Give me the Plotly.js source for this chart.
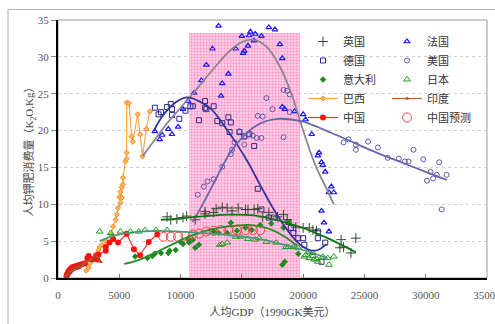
<!DOCTYPE html>
<html>
<head>
<meta charset="utf-8">
<script src="https://cdn.plot.ly/plotly-3.0.1.min.js"></script>
<style>html,body{margin:0;padding:0;background:#fff;}#chart{width:495px;height:324px;}</style>
</head>
<body>
<div id="chart"></div>
<script>
// ---- data ----
const shadeX = [10700, 19750];
const shadeTop = 33.3;

const ukX = [8900,9200,9700,10200,10500,11200,12000,12000,12700,12900,13400,13800,14200,14700,15300,15500,16000,16300,16700,17200,17900,18400,18700,19400,20000,20500,20800,21100,23000,23100,23300,23900,24300];
const ukY = [8.3,7.9,8.0,8.2,8.4,7.9,8.7,9.0,8.9,9.4,9.6,9.5,9.1,9.5,9.3,9.3,9.3,9.4,8.3,8.9,8.3,8.6,7.9,6.9,6.8,6.8,6.5,6.4,4.1,5.2,4.2,3.4,5.4];

const frX = [7900,8300,8500,9000,9300,9800,10200,10600,11100,11700,12100,12600,13100,13300,13400,13900,14500,15000,15100,15200,15500,15600,15700,16000,16100,16600,17200,17700,18100,18300,18300,18500,19300,20000,20200,20700,21200,21300,21500,21600,21800,22100,22300,22500,21500,21700,22100];
const frY = [19.9,18.8,19.4,20.2,19.5,20.5,22.9,24.0,25.1,26.8,28.9,31.1,34.2,24.7,26.4,27.7,31.1,32.8,30.5,30.8,31.5,32.9,33.4,32.2,33.1,32.8,34.0,33.7,31.7,29.8,23.2,22.9,22.6,22.2,21.5,19.5,16.6,17.0,15.7,15.3,14.4,11.6,12.4,11.6,9.1,7.5,6.3];

const deX = [7900,8200,8400,8900,9200,9300,9300,9900,10400,10800,11000,11500,12000,12000,12100,12700,13000,13400,13900,14000,14100,14800,15200,15600,16000,16300,16600,17200,17600,18800,19000,19200,19600,20000,20100,21200,21200,21500,21800];
const deY = [23.1,22.2,22.5,23.2,23.6,22.9,22.1,21.6,22.7,23.3,23.3,21.4,24.0,23.1,22.9,23.3,21.3,21.0,21.8,19.8,21.1,19.8,19.2,19.5,17.9,12.1,9.3,8.2,8.2,7.6,6.8,6.1,5.4,5.4,4.5,6.3,5.4,2.2,4.8];

const usX = [11400,11900,12200,12700,13400,14100,14200,14400,14800,15200,15200,15500,15900,16200,16300,16600,16700,17000,17500,18400,18400,18700,18900,18900,23300,23700,24300,24300,25300,26100,26900,27800,28300,28600,29000,29800,30100,30400,30600,30900,31100,31300,31700];
const usY = [11.3,12.4,13.1,13.4,15.1,16.8,17.4,18.4,19.9,18.1,19.2,19.5,19.3,19.0,22.0,19.0,21.9,24.4,22.9,19.1,25.5,25.4,24.9,22.5,18.4,18.8,18.1,17.4,18.5,17.7,16.3,16.2,15.8,15.8,17.4,16.1,13.2,14.4,13.5,14.0,15.7,9.3,14.0];

const itX = [6300,7300,7700,7900,8400,9000,9100,9600,10000,10200,10600,10700,11000,11200,11500,12700,13100,13800,14100,14600,15300,15800,16500,17400,18400,18800,18300,18500,19600];
const itY = [2.9,2.7,3.0,3.3,3.4,3.4,3.7,3.8,4.9,4.6,5.3,4.8,5.2,4.1,4.5,6.3,6.1,6.1,7.5,6.4,6.8,6.5,7.2,7.4,6.8,7.6,1.8,2.2,3.3];

const jpX = [3400,4300,5100,5900,6600,7100,8000,8900,13200,13400,13800,14500,14900,15500,16100,16400,17000,17800,18600,18800,19200,19600,20100,20200,20500,20500,20800,20800,20900,21100,21200,21600,22000,22100,22500];
const jpY = [6.3,6.1,6.3,6.3,6.3,6.5,6.5,6.5,4.5,4.6,4.8,5.6,5.6,5.3,5.2,5.4,4.9,4.8,4.2,4.2,4.2,4.1,2.9,3.1,2.7,3.5,3.0,3.4,2.5,2.6,2.2,2.9,2.7,1.8,2.9];

const brX = [2300,2400,2500,2600,2800,3100,3300,3400,3600,3900,4300,4500,4700,4800,4900,5100,5000,5200,5100,5200,5300,5300,5500,5600,5600,5600,5800,6000,6100,6500,6700,6900,7200,7500];
const brY = [1.0,1.8,1.4,2.0,2.5,3.2,3.8,4.2,4.5,5.0,5.9,7.0,7.9,8.6,9.5,10.2,11.0,10.9,11.7,12.3,12.7,13.6,15.8,16.2,17.0,23.8,23.7,19.2,18.5,22.2,19.5,16.5,20.2,22.6];

const inX = [600,700,800,900,1000,1100,1200,1300,1400,1500,1700,1900,2100,2300,2600,2900,3100,3300,3500];
const inY = [0.3,0.4,0.6,0.7,0.9,1.0,1.1,1.2,1.3,1.4,1.5,1.7,1.9,2.1,2.4,2.8,3.1,2.6,2.2];

const cnX = [700,750,800,850,900,950,1000,1050,1100,1200,1300,1400,1500,1600,1700,1800,2000,2200,2400,2500,2600,2800,3100,3200,3300,3900,3900,4200,4500,4900,5600,6200,6700,7400,8100];
const cnY = [0.3,0.5,0.6,0.9,0.8,1.1,1.0,1.3,1.2,1.5,1.4,1.6,1.5,1.7,1.6,1.8,1.9,2.0,2.7,3.0,2.6,2.5,3.0,2.5,3.2,3.7,4.2,4.8,5.3,4.8,6.0,3.9,3.1,4.9,5.9];

const cfX = [8600,9200,9800,10400,11000,11500,12100,12700,13300,13900,14600,15300,15900,16500];
const cfY = [5.6,5.6,5.6,5.7,5.9,6.0,6.3,6.4,6.5,6.5,6.5,6.5,6.5,6.5];

// fitted trend curves
const frFitX = [6900,8000,9000,10000,11000,12000,13000,14000,15000,16000,17000,18000,19000,20000,21000,22000,22500];
const frFitY = [16.5,19.0,21.2,23.1,25.0,27.0,29.0,30.8,32.0,32.3,31.4,29.0,25.2,20.0,15.3,11.8,10.0];
const deFitX = [7800,8500,9500,10500,11500,12500,13500,14500,15500,16500,17500,18500,19500,20500,21200,21900];
const deFitY = [19.9,21.9,23.7,24.5,24.0,22.9,20.8,18.4,15.7,12.6,9.6,7.0,4.9,3.8,3.8,4.6];
const usFitX = [11000,12000,13000,14000,15000,16000,17000,18000,19000,20000,21000,22000,23000,24500,26000,28000,30000,31700];
const usFitY = [7.6,10.6,13.8,16.9,19.0,20.5,21.3,21.6,21.5,21.2,20.6,19.9,19.2,18.1,17.0,15.7,14.4,13.3];
const ukFitX = [8400,10000,12000,14000,16000,17000,18000,19000,20000,21000,22000,23000,24300];
const ukFitY = [7.9,8.1,8.4,8.6,8.5,8.2,7.8,7.3,6.8,6.1,5.4,4.6,3.5];
const itFitX = [5400,6500,7500,8500,9500,10500,11500,12500,13500,14500,15500,16500,17500,18500,19500];
const itFitY = [1.9,2.4,3.1,3.9,4.7,5.5,6.1,6.6,6.9,7.1,7.2,7.0,6.5,5.6,4.4];
const jpFitX = [3400,4500,6000,8000,10000,12000,14000,16000,18000,20000,22000];
const jpFitY = [5.0,5.7,6.2,6.4,6.3,6.1,5.8,5.4,4.7,3.8,2.7];

const yTicks = [0,5,10,15,20,25,30,35];
const xTicks = [0,5000,10000,15000,20000,25000,30000,35000];

// ---- traces ----
const SERIF = 'Liberation Serif, Noto Sans CJK SC, serif';
const traces = [];
traces.push({type:'bar', x:[(shadeX[0]+shadeX[1])/2], y:[shadeTop], width:[shadeX[1]-shadeX[0]],
  marker:{color:'#ffc4e2', line:{width:0}, pattern:{shape:'+', fgcolor:'#ff8ec6', bgcolor:'#ffcce6', size:3, solidity:0.3}},
  showlegend:false, hoverinfo:'skip'});

function pts(name, x, y, marker, legend, extra) {
  return Object.assign({type:'scatter', mode:'markers', name:name, x:x, y:y, marker:marker, legend:legend}, extra||{});
}
// column 1 legend
traces.push(pts('英国', ukX, ukY, {symbol:'cross-thin-open', size:7, color:'#2c482c', line:{color:'#2c482c', width:1}}, 'legend'));
traces.push(pts('德国', deX, deY, {symbol:'square-open', size:5, color:'#2a2a8c', line:{color:'#2a2a8c', width:1}}, 'legend'));
traces.push(pts('意大利', itX, itY, {symbol:'diamond', size:5, color:'#1f8a1f', line:{width:0}}, 'legend'));
traces.push(pts('巴西', brX, brY, {symbol:'diamond', size:4, color:'#ffb868', line:{color:'#ff8a1a', width:1}}, 'legend', {mode:'lines+markers', line:{color:'#ffa640', width:1.2}}));
traces.push(pts('中国', cnX, cnY, {symbol:'circle', size:6, color:'#ff1010'}, 'legend', {mode:'lines+markers', line:{color:'#ff3030', width:1.2}}));
// column 2 legend
traces.push(pts('法国', frX, frY, {symbol:'triangle-up-open', size:5, color:'#1a1aff', line:{color:'#1a1aff', width:1.2}}, 'legend2'));
traces.push(pts('美国', usX, usY, {symbol:'circle-open', size:5, color:'#4a4aaa', line:{color:'#4a4aaa', width:0.9}}, 'legend2'));
traces.push(pts('日本', jpX, jpY, {symbol:'triangle-up-open', size:6, color:'#1f9a1f', line:{color:'#1f9a1f', width:1}}, 'legend2'));
traces.push(pts('印度', inX, inY, {symbol:'triangle-up', size:4, color:'#a0522d'}, 'legend2', {mode:'lines+markers', line:{color:'#b5652d', width:1.2}}));
traces.push(pts('中国预测', cfX, cfY, {symbol:'circle-open', size:9, color:'#ff4040', line:{color:'#ff4040', width:1}}, 'legend2'));

function fit(x, y, color) {
  return {type:'scatter', mode:'lines', x:x, y:y, line:{color:color, width:1.8, shape:'spline'}, showlegend:false, hoverinfo:'skip'};
}
traces.push(fit(frFitX, frFitY, '#8a8494'));
traces.push(fit(deFitX, deFitY, '#34349a'));
traces.push(fit(usFitX, usFitY, '#6666aa'));
traces.push(fit(ukFitX, ukFitY, '#137313'));
traces.push(fit(itFitX, itFitY, '#2a8c2a'));
traces.push(fit(jpFitX, jpFitY, '#4a9a78'));

const L = 58, R = 8, T = 20, B = 46, W = 495, H = 324;
const pw = W - L - R, ph = H - T - B;
const px = v => (v - L) / pw, py = v => (H - B - v) / ph;

const layout = {
  width: W, height: H,
  margin: {l:L, r:R, t:T, b:B, pad:0},
  paper_bgcolor:'#ffffff', plot_bgcolor:'#ffffff',
  showlegend: true,
  bargap: 0,
  xaxis: {range:[0,35000], tickvals:xTicks, ticktext:xTicks.map(String), ticks:'inside', ticklen:4, tickcolor:'#777',
    ticklabeloverflow:'allow', ticklabelstandoff:6,
    showgrid:false, zeroline:false, showline:true, linecolor:'#000', linewidth:2,
    tickfont:{family:SERIF, size:11, color:'#555'},
    title:{text:'人均GDP（1990GK美元）', font:{family:SERIF, size:11, color:'#444'}, standoff:8}},
  yaxis: {range:[0,35], tickvals:yTicks, ticks:'outside', ticklen:5, tickcolor:'#888',
    showgrid:true, gridcolor:'#cfcfcf', griddash:'dot', gridwidth:1, zeroline:false,
    showline:true, linecolor:'#000', linewidth:2,
    tickfont:{family:SERIF, size:11, color:'#555'},
    title:{text:'人均钾肥消费量（K<sub>2</sub>O,Kg）', font:{family:SERIF, size:11, color:'#444'}, standoff:0}},
  legend: {x:px(303), y:py(27), xanchor:'left', yanchor:'top', bgcolor:'rgba(0,0,0,0)', borderwidth:0,
    font:{family:SERIF, size:11, color:'#333'}, tracegroupgap:0},
  legend2: {x:px(387), y:py(27), xanchor:'left', yanchor:'top', bgcolor:'rgba(0,0,0,0)', borderwidth:0,
    font:{family:SERIF, size:11, color:'#333'}, tracegroupgap:0},
  shapes: [
    {type:'rect', xref:'paper', yref:'paper', x0:0, x1:1, y0:0, y1:1, line:{color:'#9a9a9a', width:1}, layer:'below'},
    {type:'rect', xref:'paper', yref:'paper', x0:px(8), x1:px(700), y0:py(500), y1:py(9.5), line:{color:'#b0b0b0', width:1}, layer:'below'}
  ]
};

Plotly.newPlot('chart', traces, layout, {staticPlot:true, displayModeBar:false});
</script>
</body>
</html>
